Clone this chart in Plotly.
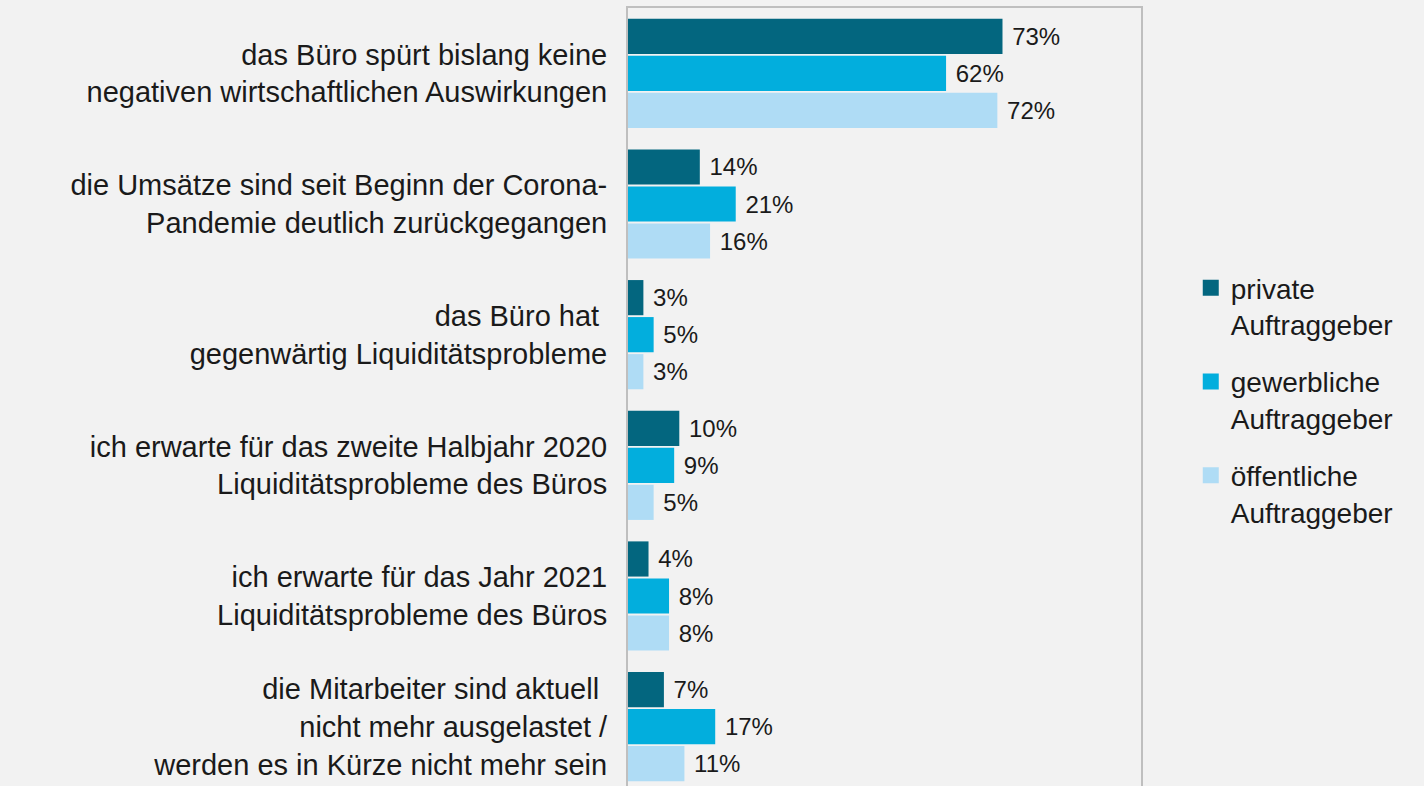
import plotly.graph_objects as go

categories = [
    "das Büro spürt bislang keine<br>negativen wirtschaftlichen Auswirkungen",
    "die Umsätze sind seit Beginn der Corona-<br>Pandemie deutlich zurückgegangen",
    "das Büro hat\u00a0<br>gegenwärtig Liquiditätsprobleme",
    "ich erwarte für das zweite Halbjahr 2020<br>Liquiditätsprobleme des Büros",
    "ich erwarte für das Jahr 2021<br>Liquiditätsprobleme des Büros",
    "die Mitarbeiter sind aktuell\u00a0<br>nicht mehr ausgelastet /<br>werden es in Kürze nicht mehr sein",
]
series_names = ["private<br>Auftraggeber", "gewerbliche<br>Auftraggeber", "öffentliche<br>Auftraggeber"]
private = [73, 14, 3, 10, 4, 7]
gewerbliche = [62, 21, 5, 9, 8, 17]
oeffentliche = [72, 16, 3, 5, 8, 11]
colors = ["#03667f", "#02aedd", "#afdcf5"]

FONT = "Liberation Sans, Arial, sans-serif"
fig = go.Figure()
for i, (name, vals) in enumerate(zip(series_names, [private, gewerbliche, oeffentliche])):
    fig.add_trace(go.Bar(
        y=categories, x=vals, name=name, orientation="h",
        marker=dict(color=colors[i], line=dict(width=0)),
        text=[f"\u00a0{v}%" for v in vals], textposition="outside",
        textfont=dict(family=FONT, size=24, color="#1a1a1a"),
        cliponaxis=False, showlegend=False,
    ))
# legend entries with larger square symbols
for i, name in enumerate(series_names):
    fig.add_trace(go.Scatter(
        x=[None], y=[None], mode="markers", name=name,
        marker=dict(symbol="square", size=16, color=colors[i]),
        legendgroup=f"g{i}", showlegend=True,
    ))

fig.update_layout(
    width=1424, height=792,
    margin=dict(l=628, r=283, t=8, b=0),
    paper_bgcolor="#f2f2f2", plot_bgcolor="#f2f2f2",
    barmode="group", bargap=0.15, bargroupgap=0.05,
    font=dict(family=FONT, color="#1a1a1a"),
    showlegend=True,
    legend=dict(x=1.097, xanchor="left", y=0.5, yanchor="middle",
                traceorder="grouped", tracegroupgap=18, valign="top",
                font=dict(family=FONT, size=28, color="#1a1a1a"),
                bgcolor="rgba(0,0,0,0)", itemwidth=30),
)
fig.update_xaxes(range=[0, 100], showticklabels=False, showgrid=False, zeroline=False,
                 showline=True, linecolor="#bfbfbf", linewidth=2, mirror=True, ticks="")
fig.update_yaxes(autorange="reversed", showgrid=False, zeroline=False,
                 showline=True, linecolor="#bfbfbf", linewidth=2, mirror=True, ticks="",
                 tickfont=dict(family=FONT, size=29, color="#1a1a1a"),
                 ticklabelstandoff=13)

fig.write_html("out.html", config={"displayModeBar": False},
               post_script="document.body.style.margin='0';")
